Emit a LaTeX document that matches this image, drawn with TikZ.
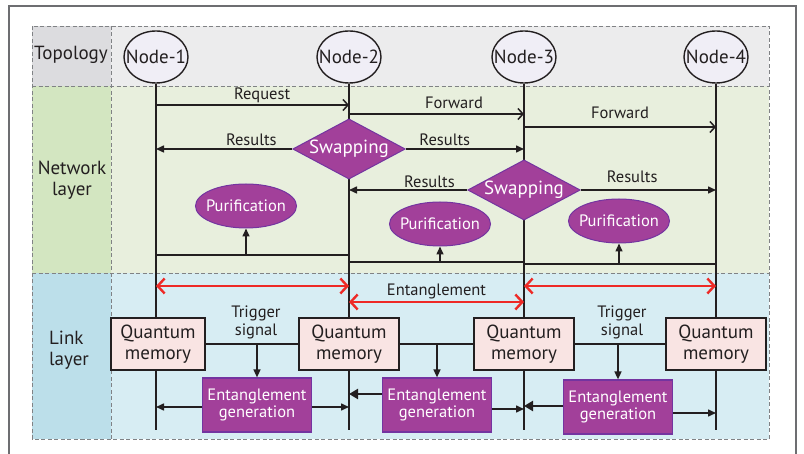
\documentclass[tikz,border=0pt]{standalone}
\usepackage{fontspec}
\setmainfont{PT Sans}
\usetikzlibrary{arrows.meta,positioning,shapes.geometric}

\definecolor{ink}{HTML}{231F20}
\definecolor{framegray}{HTML}{6D6E71}
\definecolor{sepgray}{HTML}{808285}
\definecolor{toplab}{HTML}{DCDCDF}
\definecolor{toprow}{HTML}{ECECED}
\definecolor{netlab}{HTML}{D3E6C1}
\definecolor{netrow}{HTML}{E8EFDD}
\definecolor{linklab}{HTML}{BCDFEA}
\definecolor{linkrow}{HTML}{D7EDF3}
\definecolor{peerfill}{HTML}{F0EEF6}
\definecolor{purp}{HTML}{A2409A}
\definecolor{purpedge}{HTML}{7434A0}
\definecolor{memfill}{HTML}{F9E4E3}
\definecolor{entred}{HTML}{EE2A26}

\newcommand{\bigtxt}{\fontsize{19}{21}\selectfont}
\newcommand{\smalltxt}{\fontsize{16.5}{18}\selectfont}

\begin{document}
\begin{tikzpicture}[x=1pt, y=-1pt,
  every node/.style={text=ink},
  sep/.style={draw=sepgray, line width=0.9pt, dash pattern=on 4pt off 2.5pt},
  laytxt/.style={font=\bigtxt, align=center, inner sep=0pt},
  peer/.style={ellipse, draw=ink, line width=1.4pt, fill=peerfill, minimum width=64pt, minimum height=52pt, inner xsep=-14pt, inner ysep=0pt, font=\bigtxt},
  life/.style={draw=ink, line width=1.9pt},
  wire/.style={draw=ink, line width=1.5pt},
  lbl/.style={font=\smalltxt, inner sep=1pt, align=center},
  msg/.style={wire, -{Straight Barb[length=5pt,width=11pt]}},
  res/.style={wire, -{Triangle[length=8pt,width=7pt]}},
  heavy/.style={draw=ink, line width=2.7pt, -{Triangle[length=9pt,width=10pt]}},
  swap/.style={diamond, draw=purpedge, line width=1pt, fill=purp, text=white, aspect=1.87, minimum width=112pt, minimum height=60pt, inner sep=0pt, font=\bigtxt},
  purify/.style={ellipse, draw=purpedge, line width=1pt, fill=purp, text=white, minimum width=101pt, minimum height=44pt, inner xsep=-14pt, inner ysep=0pt, font=\smalltxt},
  ent/.style={draw=entred, line width=2.4pt, {Straight Barb[length=7pt,width=15pt]}-{Straight Barb[length=7pt,width=15pt]}},
  qmem/.style={draw=ink, line width=1.4pt, fill=memfill, minimum width=100pt, minimum height=52pt, inner sep=0pt, align=center, font=\bigtxt},
  entgen/.style={draw=purpedge, line width=1.2pt, fill=purp, text=white, minimum width=109pt, minimum height=54pt, inner sep=0pt, align=center, font=\fontsize{16.5}{17.5}\selectfont}]
 \useasboundingbox (0,0) rectangle (804,454);
 % Outer frame
 \draw[framegray, line width=1.3pt] (9,470) -- (9,6) -- (796,6) -- (796,470);

 % Layer bands
 \fill[toplab] (32,26) rectangle (111,86);
 \fill[toprow] (111,26) rectangle (769,86);
 \fill[netlab] (32,86) rectangle (111,273);
 \fill[netrow] (111,86) rectangle (769,273);
 \fill[linklab] (32,273) rectangle (111,439);
 \fill[linkrow] (111,273) rectangle (769,439);
 \draw[sep] (32,26) rectangle (769,439);
 \draw[sep] (32,86) -- (769,86);
 \draw[sep] (32,273) -- (769,273);
 \draw[sep] (111,26) -- (111,439);

 % Layer names
 \node[laytxt] (topo) at (71,55) {Topology};
 \node[laytxt] (netw) at (72,180) {Network\\layer};
 \node[laytxt, align=left] (link) at (69,350) {Link\\layer};

 % Topology - the four nodes
 \node[peer] (n1) at (156,57) {Node-1};
 \node[peer] (n2) at (349,57) {Node-2};
 \node[peer] (n3) at (524,57) {Node-3};
 \node[peer] (n4) at (716,57) {Node-4};

 % Time lines
 \coordinate (bottom) at (0,430);
 \foreach \n in {n1,n2,n3,n4}
   \draw[life] (\n.south) -- (\n |- bottom);

 % Network layer - requests
 \coordinate (yreq) at (0,105);
 \coordinate (yfw1) at (0,114);
 \coordinate (yfw2) at (0,127);
 \draw[msg] (n1 |- yreq) -- (n2 |- yreq) node[lbl, pos=0.55, above=0pt] {Request};
 \draw[msg] (n2 |- yfw1) -- (n3 |- yfw1) node[lbl, pos=0.6, above=4pt] {Forward};
 \draw[msg] (n3 |- yfw2) -- (n4 |- yfw2) node[lbl, midway, above=7pt] {Forward};

 % Swapping and results
 \node[swap] (sw1) at (349,149) {Swapping};
 \node[swap] (sw2) at (524,190) {Swapping};
 \draw[res] (sw1.west) -- (sw1.west -| n1) node[lbl, pos=0.3, above=2pt] {Results};
 \draw[res] (sw1.east) -- (sw1.east -| n3) node[lbl, pos=0.33, above=2pt] {Results};
 \draw[res] (sw2.west) -- (sw2.west -| n2) node[lbl, pos=0.32, above=1pt] {Results};
 \draw[res] (sw2.east) -- (sw2.east -| n4) node[lbl, pos=0.38, above=6pt] {Results};

 % Purification
 \node[purify] (p1) at (246,206) {Purification};
 \node[purify] (p2) at (440,224) {Purification};
 \node[purify] (p3) at (619,221) {Purification};
 \coordinate (ypu1) at (0,255);
 \coordinate (ypu2) at (0,262);
 \coordinate (ypu3) at (0,264);
 \draw[wire] (n1 |- ypu1) -- (n2 |- ypu1);
 \draw[wire] (n2 |- ypu2) -- (n3 |- ypu2);
 \draw[wire] (n3 |- ypu3) -- (n4 |- ypu3);
 \draw[res] (p1 |- ypu1) -- (p1.south);
 \draw[res] (p2 |- ypu2) -- (p2.south);
 \draw[res] (p3 |- ypu3) -- (p3.south);

 % Link layer - entanglement
 \coordinate (yen1) at (0,286);
 \coordinate (yen2) at (0,302);
 \draw[ent] (n1 |- yen1) -- (n2 |- yen1);
 \draw[ent] (n2 |- yen2) -- (n3 |- yen2) node[lbl, midway, above=1pt] {Entanglement};
 \draw[ent] (n3 |- yen1) -- (n4 |- yen1);

 % Quantum memories
 \node[qmem, minimum width=94pt] (m1) at (158,344) {Quantum\\memory};
 \node[qmem] (m2) at (349,344) {Quantum\\memory};
 \node[qmem] (m3) at (524,344) {Quantum\\memory};
 \node[qmem] (m4) at (716,344) {Quantum\\memory};

 % Entanglement generation
 \node[entgen] (g1) at (257,405) {Entanglement\\generation};
 \node[entgen] (g2) at (437,405) {Entanglement\\generation};
 \node[entgen] (g3) at (618,407) {Entanglement\\generation};

 % Trigger signals
 \foreach \a/\b/\g in {m1/m2/g1, m2/m3/g2, m3/m4/g3} {
   \draw[wire] (\a.east) -- (\b.west);
   \draw[res] (\g.north |- \a.east) -- (\g.north);
 }
 \node[lbl] (trig1) at (256,322) {Trigger\\signal};
 \node[lbl] (trig2) at (622,322) {Trigger\\signal};

 % Generated pairs back to the nodes
 \coordinate (yg1) at (0,407);
 \coordinate (yg2) at (0,394);
 \coordinate (yg3) at (0,409);
 \coordinate (yg4) at (0,406);
 \coordinate (yg5) at (0,413);
 \draw[res] (g1.west |- yg1) -- (n1 |- yg1);
 \draw[res] (g1.east |- yg1) -- (n2 |- yg1);
 \draw[heavy] (g2.west |- yg2) -- (n2 |- yg2);
 \draw[res] (g2.east |- yg3) -- (n3 |- yg3);
 \draw[heavy] (g3.west |- yg4) -- (n3 |- yg4);
 \draw[res] (g3.east |- yg5) -- (n4 |- yg5);
\end{tikzpicture}
\end{document}
